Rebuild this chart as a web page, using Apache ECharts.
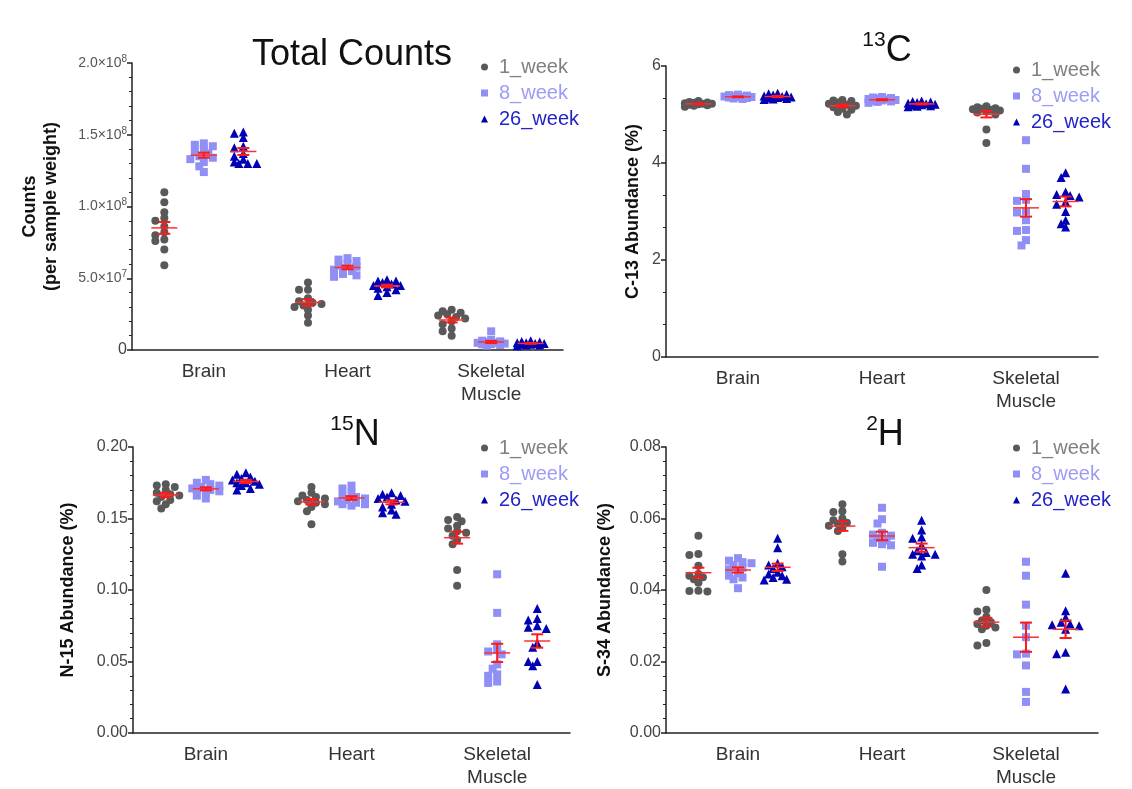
<!DOCTYPE html>
<html>
<head>
<meta charset="utf-8">
<script src="https://cdn.jsdelivr.net/npm/echarts@6/dist/echarts.min.js"></script>
<style>
  html, body { margin: 0; padding: 0; background: #fff; }
  #main { width: 1132px; height: 789px; }
</style>
</head>
<body>
<div id="main"></div>
<script>
const categories = ['Brain', 'Heart', 'Skeletal\nMuscle'];
const groups = ['1_week', '8_week', '26_week'];

// Total counts (per sample weight), one list per category
const counts1Week = [
  [1.10e8, 1.03e8, 0.96e8, 0.92e8, 0.90e8, 0.86e8, 0.82e8, 0.80e8, 0.77e8, 0.76e8, 0.70e8, 0.59e8],
  [0.47e8, 0.42e8, 0.42e8, 0.36e8, 0.34e8, 0.33e8, 0.32e8, 0.31e8, 0.30e8, 0.28e8, 0.24e8, 0.19e8],
  [0.28e8, 0.27e8, 0.26e8, 0.25e8, 0.24e8, 0.23e8, 0.22e8, 0.20e8, 0.18e8, 0.15e8, 0.13e8, 0.10e8]
];
const counts8Week = [
  [1.44e8, 1.43e8, 1.42e8, 1.40e8, 1.38e8, 1.37e8, 1.35e8, 1.34e8, 1.33e8, 1.31e8, 1.28e8, 1.24e8],
  [0.64e8, 0.63e8, 0.62e8, 0.60e8, 0.59e8, 0.58e8, 0.57e8, 0.56e8, 0.55e8, 0.53e8, 0.52e8, 0.51e8],
  [0.13e8, 0.07e8, 0.065e8, 0.06e8, 0.055e8, 0.05e8, 0.05e8, 0.045e8, 0.04e8, 0.04e8, 0.035e8, 0.03e8]
];
const counts26Week = [
  [1.52e8, 1.51e8, 1.48e8, 1.42e8, 1.41e8, 1.37e8, 1.35e8, 1.33e8, 1.31e8, 1.30e8, 1.30e8, 1.30e8],
  [0.49e8, 0.48e8, 0.48e8, 0.47e8, 0.46e8, 0.45e8, 0.45e8, 0.44e8, 0.43e8, 0.42e8, 0.40e8, 0.38e8],
  [0.065e8, 0.06e8, 0.055e8, 0.05e8, 0.05e8, 0.045e8, 0.045e8, 0.04e8, 0.04e8, 0.035e8, 0.035e8, 0.03e8]
];

// C-13 abundance (%)
const c13_1Week = [
  [5.28, 5.26, 5.25, 5.24, 5.23, 5.22, 5.22, 5.21, 5.20, 5.19, 5.18, 5.16],
  [5.30, 5.29, 5.28, 5.25, 5.22, 5.20, 5.18, 5.15, 5.12, 5.10, 5.05, 5.00],
  [5.17, 5.15, 5.13, 5.12, 5.11, 5.10, 5.08, 5.06, 5.04, 5.00, 4.69, 4.41]
];
const c13_8Week = [
  [5.41, 5.40, 5.39, 5.38, 5.37, 5.37, 5.36, 5.36, 5.35, 5.34, 5.33, 5.32],
  [5.36, 5.35, 5.34, 5.33, 5.32, 5.31, 5.30, 5.29, 5.28, 5.27, 5.26, 5.24],
  [4.47, 3.88, 3.36, 3.24, 3.22, 3.00, 2.98, 2.82, 2.62, 2.60, 2.41, 2.30]
];
const c13_26Week = [
  [5.44, 5.43, 5.41, 5.40, 5.38, 5.37, 5.36, 5.35, 5.34, 5.33, 5.32, 5.31],
  [5.28, 5.27, 5.26, 5.25, 5.23, 5.22, 5.21, 5.20, 5.19, 5.18, 5.17, 5.16],
  [3.80, 3.70, 3.40, 3.35, 3.33, 3.30, 3.20, 3.15, 3.00, 2.82, 2.75, 2.68]
];

// N-15 abundance (%)
const n15_1Week = [
  [0.174, 0.173, 0.172, 0.170, 0.168, 0.167, 0.166, 0.165, 0.163, 0.162, 0.160, 0.157],
  [0.172, 0.168, 0.166, 0.165, 0.164, 0.163, 0.162, 0.161, 0.160, 0.158, 0.155, 0.146],
  [0.151, 0.149, 0.148, 0.145, 0.143, 0.141, 0.140, 0.138, 0.135, 0.132, 0.114, 0.103]
];
const n15_8Week = [
  [0.177, 0.175, 0.174, 0.173, 0.172, 0.171, 0.170, 0.170, 0.169, 0.168, 0.166, 0.164],
  [0.173, 0.171, 0.168, 0.166, 0.165, 0.164, 0.163, 0.162, 0.161, 0.160, 0.160, 0.159],
  [0.111, 0.084, 0.062, 0.058, 0.057, 0.055, 0.048, 0.045, 0.041, 0.040, 0.036, 0.035]
];
const n15_26Week = [
  [0.182, 0.181, 0.179, 0.178, 0.177, 0.176, 0.175, 0.175, 0.174, 0.173, 0.171, 0.170],
  [0.168, 0.167, 0.166, 0.165, 0.164, 0.163, 0.162, 0.160, 0.158, 0.156, 0.154, 0.153],
  [0.087, 0.080, 0.079, 0.075, 0.074, 0.073, 0.063, 0.060, 0.050, 0.050, 0.047, 0.034]
];

// S-34 abundance (%)
const s34_1Week = [
  [0.0552, 0.0501, 0.0498, 0.0468, 0.0445, 0.0440, 0.0436, 0.0430, 0.0420, 0.0398, 0.0397, 0.0396],
  [0.0640, 0.0620, 0.0618, 0.0600, 0.0595, 0.0588, 0.0585, 0.0580, 0.0575, 0.0565, 0.0500, 0.0480],
  [0.0400, 0.0345, 0.0340, 0.0325, 0.0315, 0.0310, 0.0305, 0.0300, 0.0295, 0.0290, 0.0252, 0.0245]
];
const s34_8Week = [
  [0.0489, 0.0482, 0.0478, 0.0475, 0.0470, 0.0462, 0.0458, 0.0447, 0.0440, 0.0435, 0.0430, 0.0405],
  [0.0630, 0.0598, 0.0586, 0.0560, 0.0555, 0.0552, 0.0545, 0.0538, 0.0532, 0.0528, 0.0525, 0.0465],
  [0.0479, 0.0440, 0.0359, 0.0300, 0.0268, 0.0222, 0.0220, 0.0189, 0.0115, 0.0087]
];
const s34_26Week = [
  [0.0545, 0.0518, 0.0475, 0.0470, 0.0465, 0.0460, 0.0450, 0.0445, 0.0440, 0.0435, 0.0430, 0.0428],
  [0.0595, 0.0568, 0.0548, 0.0545, 0.0525, 0.0510, 0.0505, 0.0500, 0.0500, 0.0495, 0.0470, 0.0460],
  [0.0447, 0.0342, 0.0323, 0.0310, 0.0305, 0.0303, 0.0300, 0.0290, 0.0226, 0.0222, 0.0123]
];

const FONT = 'Arial, "Liberation Sans", sans-serif';
const colors = ['#595959', '#8f8ff5', '#0000b4'];
const legendColors = ['#808080', '#9c9cf7', '#2323c8'];
const symbols = ['circle', 'rect', 'triangle'];
const symbolSizes = [8, 8, 9];

const panels = [
  {
    data: [counts1Week, counts8Week, counts26Week],
    grid: { left: 132, top: 63, width: 431, height: 287 },
    min: 0, max: 2e8, interval: 5e7, minorSplit: 5,
    yName: 'Counts\n(per sample weight)', nameGap: 70,
    title: '{t|Total Counts}', titleX: 347, titleY: 30,
    legend: { left: 476, top: 52 },
    fmt: v => {
      if (v === 0) return '0';
      const e = Math.floor(Math.log10(v) + 1e-9);
      return '{m|' + (v / Math.pow(10, e)).toFixed(1) + '×10}{e|' + e + '}';
    }
  },
  {
    data: [c13_1Week, c13_8Week, c13_26Week],
    grid: { left: 666, top: 66, width: 432, height: 291 },
    min: 0, max: 6, interval: 2, minorSplit: 3,
    yName: 'C-13 Abundance (%)', nameGap: 22,
    title: '{s|13}{t|C}', titleX: 882, titleY: 26,
    legend: { left: 1008, top: 55 },
    fmt: v => String(v)
  },
  {
    data: [n15_1Week, n15_8Week, n15_26Week],
    grid: { left: 133, top: 447, width: 437, height: 288 },
    min: 0, max: 0.2, interval: 0.05, minorSplit: 5,
    yName: 'N-15 Abundance (%)', nameGap: 54,
    title: '{s|15}{t|N}', titleX: 350, titleY: 410,
    legend: { left: 476, top: 433 },
    fmt: v => v.toFixed(2)
  },
  {
    data: [s34_1Week, s34_8Week, s34_26Week],
    grid: { left: 666, top: 447, width: 432, height: 290 },
    min: 0, max: 0.08, interval: 0.02, minorSplit: 5,
    yName: 'S-34 Abundance (%)', nameGap: 50,
    title: '{s|2}{t|H}', titleX: 880, titleY: 410,
    legend: { left: 1008, top: 433 },
    fmt: v => v.toFixed(2)
  }
];

// horizontal spread of points (in px) so overlapping values sit side by side
function swarm(values, pxPerUnit) {
  const step = 4.5, minDist = 5.5;
  const order = values.map((v, i) => i).sort((a, b) => values[b] - values[a]);
  const placed = [];
  const out = new Array(values.length);
  order.forEach(i => {
    const y = values[i] * pxPerUnit;
    let best = 0, bestScore = -1;
    for (let k = 0; k < 7; k++) {
      const dx = (k % 2 ? -1 : 1) * Math.ceil(k / 2) * step;
      let minD = Infinity;
      placed.forEach(p => {
        const d = Math.hypot(p[0] - dx, p[1] - y);
        if (d < minD) minD = d;
      });
      if (minD >= minDist) { best = dx; break; }
      if (minD > bestScore) { bestScore = minD; best = dx; }
    }
    placed.push([best, y]);
    out[i] = best;
  });
  return out;
}

function stats(values) {
  const n = values.length;
  const mean = values.reduce((a, b) => a + b, 0) / n;
  const sd = Math.sqrt(values.reduce((a, b) => a + (b - mean) * (b - mean), 0) / (n - 1));
  return [mean, sd / Math.sqrt(n)];
}

function renderErrorBar(params, api) {
  const x = api.value(0), mean = api.value(1), sem = api.value(2);
  const c = api.coord([x, mean]);
  const hi = api.coord([x, mean + sem]);
  const lo = api.coord([x, mean - sem]);
  const red = { stroke: '#ff1a1a', lineWidth: 2 };
  return {
    type: 'group',
    children: [
      { type: 'line', shape: { x1: c[0] - 13, y1: c[1], x2: c[0] + 13, y2: c[1] }, style: { stroke: '#ff3030', lineWidth: 1.5 } },
      { type: 'line', shape: { x1: c[0], y1: hi[1], x2: c[0], y2: lo[1] }, style: red },
      { type: 'line', shape: { x1: c[0] - 6, y1: hi[1], x2: c[0] + 6, y2: hi[1] }, style: red },
      { type: 'line', shape: { x1: c[0] - 6, y1: lo[1], x2: c[0] + 6, y2: lo[1] }, style: red }
    ]
  };
}

const grid = [], xAxis = [], yAxis = [], series = [], title = [], legend = [];

panels.forEach((p, pi) => {
  grid.push(Object.assign({ containLabel: false }, p.grid));
  const pxPerUnit = p.grid.height / (p.max - p.min);
  const bandPx = p.grid.width / categories.length;

  xAxis.push({
    type: 'category', gridIndex: pi, data: categories,
    axisLine: { onZero: false, lineStyle: { color: '#222', width: 1.5 } },
    axisTick: { alignWithLabel: true, length: 5, lineStyle: { color: '#222', width: 1.5 } },
    axisLabel: { fontFamily: FONT, fontSize: 19, color: '#333', margin: 10, lineHeight: 23 },
    splitLine: { show: false }
  });
  xAxis.push({
    type: 'value', gridIndex: pi, min: -0.5, max: 2.5, show: false
  });
  yAxis.push({
    type: 'value', gridIndex: pi, min: p.min, max: p.max, interval: p.interval,
    name: p.yName, nameLocation: 'middle', nameGap: p.nameGap,
    nameTextStyle: { fontFamily: FONT, fontSize: 18, fontWeight: 'bold', color: '#111', lineHeight: 21 },
    axisLine: { show: true, onZero: false, lineStyle: { color: '#222', width: 1.5 } },
    axisTick: { show: true, length: 5, lineStyle: { color: '#222', width: 1.5 } },
    minorTick: { show: true, splitNumber: p.minorSplit, length: 3, lineStyle: { color: '#222', width: 1 } },
    splitLine: { show: false },
    axisLabel: {
      fontFamily: FONT, fontSize: 16, color: '#444', margin: 5,
      formatter: p.fmt,
      rich: {
        m: { fontFamily: FONT, fontSize: 14, color: '#555' },
        e: { fontFamily: FONT, fontSize: 10, color: '#555', verticalAlign: 'top', padding: [0, 0, 8, 0] }
      }
    }
  });

  title.push({
    text: p.title, left: p.titleX, top: p.titleY, textAlign: 'center',
    textStyle: {
      fontWeight: 'normal',
      rich: {
        t: { fontFamily: FONT, fontSize: 36, fontWeight: 'normal', color: '#111', lineHeight: 40 },
        s: { fontFamily: FONT, fontSize: 21, fontWeight: 'normal', color: '#111', lineHeight: 40, padding: [0, 0, 22, 0] }
      }
    }
  });

  legend.push({
    orient: 'vertical', left: p.legend.left, top: p.legend.top,
    itemWidth: 7, itemHeight: 7, itemGap: 6,
    data: groups.map((g, gi) => ({
      name: g,
      textStyle: { color: legendColors[gi] }
    })),
    textStyle: { fontFamily: FONT, fontSize: 20, lineHeight: 20, padding: [0, 0, 0, 6] },
    selectedMode: false
  });

  groups.forEach((g, gi) => {
    const pts = [], bars = [];
    p.data[gi].forEach((vals, ci) => {
      const center = ci + (gi - 1) * 0.275;
      const dx = swarm(vals, pxPerUnit);
      vals.forEach((v, k) => pts.push([center + dx[k] / bandPx, v]));
      const st = stats(vals);
      bars.push([center, st[0], st[1]]);
    });
    series.push({
      name: g, type: 'scatter', xAxisIndex: pi * 2 + 1, yAxisIndex: pi,
      symbol: symbols[gi], symbolSize: symbolSizes[gi],
      itemStyle: { color: colors[gi], opacity: 1 },
      data: pts, z: 2, silent: true
    });
    series.push({
      name: g + ' mean', type: 'custom', xAxisIndex: pi * 2 + 1, yAxisIndex: pi,
      renderItem: renderErrorBar, data: bars, z: 3, silent: true
    });
  });
});

const chart = echarts.init(document.getElementById('main'));
chart.setOption({
  backgroundColor: '#fff',
  animation: false,
  title, legend, grid, xAxis, yAxis, series
});
</script>
</body>
</html>
